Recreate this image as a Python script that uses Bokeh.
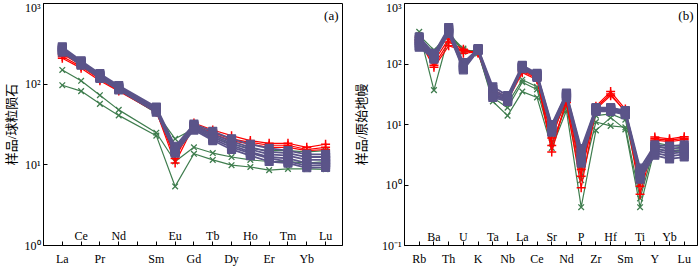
from bokeh.plotting import figure
from bokeh.layouts import row
from bokeh.models import Range1d, FixedTicker, ColumnDataSource
from bokeh.embed import file_html
from bokeh.resources import INLINE
from bokeh.core.properties import value

# ---------------- data: panel (a) chondrite-normalised REE ----------------
ree_axis = ["La", "Ce", "Pr", "Nd", "Pm", "Sm", "Eu", "Gd", "Tb", "Dy", "Ho", "Er", "Tm", "Yb", "Lu"]
ree_elements = ["La", "Ce", "Pr", "Nd", "Sm", "Eu", "Gd", "Tb", "Dy", "Ho", "Er", "Tm", "Yb", "Lu"]

red_a = [
    [235, 175, 122, 88, 48, 12.0, 33, 27, 23, 20, 18.5, 18.5, 16.5, 18.0],
    [220, 165, 115, 84, 46, 10.5, 31, 25, 21, 19, 17.5, 17.5, 15.5, 16.5],
    [210, 158, 110, 82, 45, 13.0, 30, 24, 20, 18, 16.5, 16.5, 15.0, 15.5],
]
purple_a = [
    [290, 195, 135, 96, 52, 17.0, 32, 26, 21.0, 18.0, 16.0, 15.0, 13.5, 13.5],
    [280, 190, 130, 93, 50, 16.0, 31, 24, 19.5, 16.5, 14.5, 14.0, 12.5, 12.5],
    [270, 185, 127, 91, 49, 15.5, 30, 23, 18.5, 15.5, 13.5, 13.0, 11.5, 11.5],
    [265, 180, 124, 89, 48, 15.0, 29, 22, 17.5, 14.5, 12.5, 12.0, 10.5, 10.5],
    [260, 178, 120, 87, 47, 14.5, 28, 21, 16.5, 14.0, 12.0, 11.0, 9.8, 10.0],
    [250, 172, 118, 85, 45, 14.0, 27, 20, 15.5, 13.0, 11.0, 10.5, 9.2, 9.3],
]
green_a = [
    [150, 110, 73, 48, 25, 11.0, 16.5, 14.0, 12.5, 11.5, 11.0, 11.0, 10.5, 11.0],
    [97, 82, 57, 41, 23, 5.4, 13.7, 11.5, 9.9, 9.4, 8.6, 8.9, 8.9, 8.8],
    [245, 170, 118, 84, 44, 21.0, 28.0, 22.0, 18.0, 16.0, 15.0, 15.0, 14.5, 15.0],
]

# ---------------- data: panel (b) primitive-mantle-normalised spider ----------------
spider_elements = ["Rb", "Ba", "Th", "U", "K", "Ta", "Nb", "La", "Ce", "Sr",
                   "Nd", "P", "Zr", "Hf", "Sm", "Ti", "Y", "Yb", "Lu"]

red_b = [
    [280, 95, 230, 175, 150, 35, 27, 80, 60, 3.5, 26, 1.4, 20, 35, 18, 0.95, 6.2, 5.8, 6.3],
    [250, 88, 200, 165, 155, 32, 25, 72, 55, 4.5, 23, 0.9, 18, 30, 17, 0.70, 5.8, 5.5, 5.9],
    [230, 110, 260, 150, 160, 38, 28, 76, 58, 6.0, 28, 1.8, 19, 32, 16, 1.10, 5.5, 5.2, 5.6],
]
purple_b = [
    [280, 150, 400, 105, 180, 42, 30, 95, 70, 10.0, 33, 4.0, 19.0, 19.0, 17.0, 1.90, 4.6, 4.4, 4.6],
    [260, 140, 380, 98, 178, 38, 28, 92, 68, 9.5, 32, 3.6, 18.5, 18.5, 16.5, 1.70, 4.3, 4.0, 4.2],
    [240, 135, 360, 92, 175, 35, 27, 90, 66, 9.0, 31, 3.2, 18.0, 18.0, 16.0, 1.60, 4.0, 3.6, 3.8],
    [220, 130, 340, 88, 172, 32, 26, 88, 64, 8.5, 30, 2.9, 17.5, 17.5, 15.5, 1.50, 3.7, 3.3, 3.5],
    [200, 125, 330, 84, 170, 30, 25, 86, 62, 8.0, 29, 2.6, 17.0, 17.0, 15.0, 1.40, 3.4, 3.0, 3.2],
    [190, 120, 320, 80, 168, 28, 24, 84, 60, 7.5, 28, 2.3, 16.5, 16.5, 14.5, 1.25, 3.1, 2.7, 2.9],
]
green_b = [
    [340, 37, 290, 170, 160, 24, 14, 35, 28, 4.1, 17, 0.43, 8.0, 13.0, 8.3, 0.43, 4.0, 3.6, 3.5],
    [300, 170, 310, 180, 150, 28, 19, 50, 38, 5.0, 20, 1.2, 11.0, 9.5, 9.0, 0.60, 4.5, 4.0, 3.9],
    [260, 120, 340, 160, 170, 33, 22, 55, 42, 7.0, 24, 2.0, 14.0, 15.0, 12.0, 1.00, 5.0, 4.5, 4.3],
]

a_ticks = [1, 10, 100, 1000]
a_tick_labels = ["10\u2070", "10\u00b9", "10\u00b2", "10\u00b3"]
b_ticks = [0.1, 1, 10, 100, 1000]
b_tick_labels = ["10\u207b\u00b9", "10\u2070", "10\u00b9", "10\u00b2", "10\u00b3"]

# ---------------- styles ----------------
SERIF = "'Liberation Serif', 'Times New Roman', serif"
CJK = "'Liberation Serif', 'Noto Sans CJK SC', serif"
RED = "#ff0000"
PURPLE = "#5b5489"
GREEN = "#3f7d4e"


def make_panel(width, border_left, border_right, x_end, ymin, ymax, yticks, ylabels,
               axis_names, elements, ylabel, tag, tag_pos, inner_y, label_standoff):
    p = figure(width=width, height=268, output_backend="svg", toolbar_location=None,
               y_axis_type="log", x_range=Range1d(-1, x_end), y_range=Range1d(ymin, ymax),
               min_border_left=border_left, min_border_right=border_right,
               min_border_top=3, min_border_bottom=0)
    p.xgrid.visible = False
    p.ygrid.visible = False
    p.outline_line_color = "black"
    p.outline_line_width = 1
    p.background_fill_color = "white"
    p.border_fill_color = "white"

    # x axis: ticks at every slot, labels alternate below the axis / inside the frame
    positions = [axis_names.index(e) for e in elements]
    below = {positions[i]: elements[i] for i in range(0, len(elements), 2)}
    p.xaxis.ticker = FixedTicker(ticks=list(range(len(axis_names))), minor_ticks=[])
    p.xaxis.major_label_overrides = {i: below.get(i, "") for i in range(len(axis_names))}
    p.xaxis.axis_label = None
    p.xaxis.major_tick_in = 4
    p.xaxis.major_tick_out = 0
    p.xaxis.minor_tick_in = 0
    p.xaxis.minor_tick_out = 0
    p.xaxis.minor_tick_line_color = None
    p.xaxis.major_label_text_font = SERIF
    p.xaxis.major_label_text_font_size = "12px"
    p.xaxis.major_label_text_color = "black"
    p.xaxis.major_label_standoff = 6
    p.xaxis.axis_line_color = "black"

    inside_x = [positions[i] for i in range(1, len(elements), 2)]
    inside_t = [elements[i] for i in range(1, len(elements), 2)]
    p.text(x=inside_x, y=[inner_y] * len(inside_x), text=inside_t,
           text_font=value(SERIF), text_font_size="12px", text_color="black",
           text_align="center", text_baseline="middle")

    # y axis
    p.yaxis.ticker = FixedTicker(ticks=yticks, minor_ticks=[])
    p.yaxis.major_label_overrides = {t: l for t, l in zip(yticks, ylabels)}
    p.yaxis.major_tick_in = 4
    p.yaxis.major_tick_out = 0
    p.yaxis.minor_tick_in = 0
    p.yaxis.minor_tick_out = 0
    p.yaxis.minor_tick_line_color = None
    p.yaxis.major_label_text_font = SERIF
    p.yaxis.major_label_text_font_size = "12px"
    p.yaxis.major_label_text_color = "black"
    p.yaxis.major_label_standoff = 3
    p.yaxis.axis_label = ylabel
    p.yaxis.axis_label_text_font = CJK
    p.yaxis.axis_label_text_font_style = "normal"
    p.yaxis.axis_label_text_font_size = "13px"
    p.yaxis.axis_label_text_color = "black"
    p.yaxis.axis_label_standoff = label_standoff
    p.yaxis.axis_line_color = "black"

    p.text(x=[tag_pos[0]], y=[tag_pos[1]], text=[tag], text_font=value(SERIF),
           text_font_size="13px", text_color="black", text_align="right",
           text_baseline="middle")
    return p, positions


def draw(p, xs, series, color, marker, lw, size, mlw, fill):
    for vals in series:
        src = ColumnDataSource(dict(x=xs, y=vals))
        p.line("x", "y", source=src, line_color=color, line_width=lw)
        p.scatter("x", "y", source=src, marker=marker, size=size, line_color=color,
                  fill_color=fill, line_width=mlw)


pa, xa = make_panel(350, 42, 8, 14.9, 1, 1000, a_ticks, a_tick_labels,
                    ree_axis, ree_elements, "样品/球粒陨石", "(a)", (14.69, 710), 1.3, 3)
draw(pa, xa, green_a, GREEN, "x", 1.2, 8, 1.3, None)
draw(pa, xa, red_a, RED, "cross", 1.2, 9, 1.5, None)
draw(pa, xa, purple_a, PURPLE, "square", 1.8, 8, 1.2, PURPLE)

pb, xb = make_panel(350, 52, 3, 18.9, 0.1, 1000, b_ticks, b_tick_labels,
                    spider_elements, spider_elements, "样品/原始地幔", "(b)", (18.63, 635), 0.14, 10)
draw(pb, xb, green_b, GREEN, "x", 1.2, 8, 1.3, None)
draw(pb, xb, red_b, RED, "cross", 1.2, 9, 1.5, None)
draw(pb, xb, purple_b, PURPLE, "square", 1.8, 8, 1.2, PURPLE)

layout = row(pa, pb)
open("out.html", "w").write(file_html(layout, INLINE))
